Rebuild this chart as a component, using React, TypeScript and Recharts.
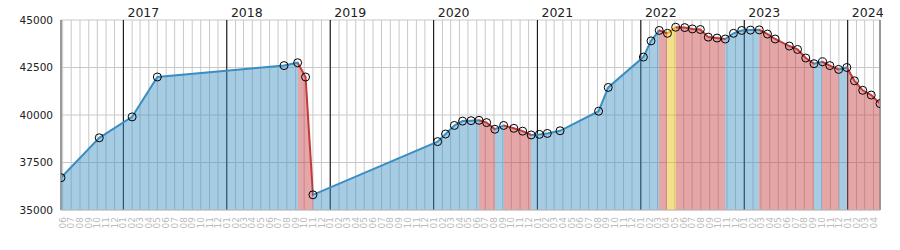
import { ComposedChart, Area, Line, XAxis, YAxis, CartesianGrid } from "recharts"

const dates = [
  "2016-05-26", "2016-10-08", "2017-02-01", "2017-05-01", "2018-07-22", "2018-09-08",
  "2018-10-06", "2018-11-01", "2020-01-15", "2020-02-12", "2020-03-14", "2020-04-12",
  "2020-05-12", "2020-06-09", "2020-07-06", "2020-08-04", "2020-09-04", "2020-10-10",
  "2020-11-10", "2020-12-10", "2021-01-08", "2021-02-05", "2021-03-22", "2021-08-05",
  "2021-09-08", "2022-01-10", "2022-02-06", "2022-03-07", "2022-04-05", "2022-05-04",
  "2022-06-05", "2022-07-02", "2022-07-30", "2022-08-27", "2022-09-27", "2022-10-26",
  "2022-11-24", "2022-12-23", "2023-01-23", "2023-02-23", "2023-03-24", "2023-04-20",
  "2023-06-09", "2023-07-08", "2023-08-06", "2023-09-04", "2023-10-04", "2023-10-30",
  "2023-11-30", "2023-12-29", "2024-01-25", "2024-02-23", "2024-03-24", "2024-04-24",
]
const values = [
  36700, 38800, 39900, 42000, 42600, 42750,
  42000, 35800, 38600, 39000, 39450, 39680,
  39700, 39720, 39600, 39250, 39450, 39300,
  39150, 38950, 38980, 39030, 39170, 40200,
  41450, 43050, 43900, 44450, 44300, 44620,
  44600, 44530, 44500, 44100, 44050, 44000,
  44300, 44450, 44470, 44480, 44260, 44000,
  43630, 43450, 43000, 42700, 42800, 42600,
  42400, 42500, 41800, 41300, 41050, 40600,
]
// segment (from point i to i+1) drawn in yellow instead of up/down colour
const yellowSegments = [28]

const yTicks = [35000, 37500, 40000, 42500, 45000]
const years = [2017, 2018, 2019, 2020, 2021, 2022, 2023, 2024]

const BLUE = "#3a8ec1"
const RED = "#c43a3a"
const YELLOW = "#e8b800"
const FONT = "DejaVu Sans"

const toTime = (d: string) => Date.parse(d + "T00:00:00Z")

const data = dates.map((d, i) => ({ t: toTime(d), value: values[i] }))
const t0 = data[0].t
const tN = data[data.length - 1].t

// first of every month shown on the bottom axis
const monthTicks: number[] = []
for (let y = 2016, m = 5; y < 2024 || m <= 3; m++) {
  if (m > 11) { m = 0; y++ }
  monthTicks.push(Date.UTC(y, m, 1))
}
const yearTicks = years.map((y) => Date.UTC(y, 0, 1))

function segmentColor(i: number) {
  if (yellowSegments.includes(i)) return YELLOW
  return values[i + 1] > values[i] ? BLUE : RED
}

// hard colour stops along x, one band per segment
const stops: { offset: number; color: string }[] = []
for (let i = 0; i < data.length - 1; i++) {
  const c = segmentColor(i)
  stops.push({ offset: (data[i].t - t0) / (tN - t0), color: c })
  stops.push({ offset: (data[i + 1].t - t0) / (tN - t0), color: c })
}

function MonthTick(props: any) {
  const { x, y, payload } = props
  const m = String(new Date(payload.value).getUTCMonth() + 1).padStart(2, "0")
  return (
    <text
      x={x}
      y={y}
      transform={`rotate(-90, ${x}, ${y})`}
      textAnchor="end"
      dy="0.35em"
      fontSize={9}
      fill="#bbbbbb"
      fontFamily={FONT}
    >
      {m}
    </text>
  )
}

export default function App() {
  return (
    <div style={{ width: 900, height: 250 }}>
      <style>{`body { margin: 0; }`}</style>
      <ComposedChart
        width={900}
        height={250}
        data={data}
        margin={{ top: 0, right: 0, bottom: 0, left: 0 }}
      >
        <defs>
          <linearGradient id="segColors" x1="0" y1="0" x2="1" y2="0">
            {stops.map((s, i) => (
              <stop key={i} offset={s.offset} stopColor={s.color} />
            ))}
          </linearGradient>
        </defs>
        <CartesianGrid stroke="#c8c8c8" />
        <CartesianGrid xAxisId="years" horizontal={false} stroke="#000" />
        <XAxis
          dataKey="t"
          type="number"
          domain={[t0, tN]}
          ticks={monthTicks}
          tick={<MonthTick />}
          tickLine={false}
          tickSize={0}
          tickMargin={7}
          axisLine={{ stroke: "#c0c0c0" }}
          height={40}
          interval={0}
          allowDataOverflow
        />
        <XAxis
          xAxisId="years"
          dataKey="t"
          orientation="top"
          type="number"
          domain={[t0, tN]}
          ticks={yearTicks}
          tickFormatter={(v) => String(new Date(v).getUTCFullYear())}
          tick={{ dx: 20, fontSize: 12.5, fill: "#222", fontFamily: FONT }}
          tickLine={false}
          tickSize={0}
          tickMargin={3}
          axisLine={false}
          height={20}
          interval={0}
          allowDataOverflow
        />
        <YAxis
          domain={[35000, 45000]}
          ticks={yTicks}
          tick={{ fontSize: 10.5, fill: "#222", fontFamily: FONT }}
          tickLine={false}
          axisLine={{ stroke: "#c0c0c0" }}
          width={61}
          interval={0}
          allowDataOverflow
        />
        <YAxis
          yAxisId="right"
          orientation="right"
          tick={false}
          tickLine={false}
          axisLine={{ stroke: "#c0c0c0" }}
          width={20}
        />
        {/* invisible series so the year axis gets a scale */}
        <Line
          xAxisId="years"
          dataKey="value"
          stroke="none"
          dot={false}
          activeDot={false}
          isAnimationActive={false}
        />
        <Area
          dataKey="value"
          type="linear"
          stroke="url(#segColors)"
          strokeWidth={2}
          fill="url(#segColors)"
          fillOpacity={0.45}
          dot={{ r: 4, stroke: "#000", strokeWidth: 1, fill: "none" }}
          activeDot={false}
          isAnimationActive={false}
        />
      </ComposedChart>
    </div>
  )
}
